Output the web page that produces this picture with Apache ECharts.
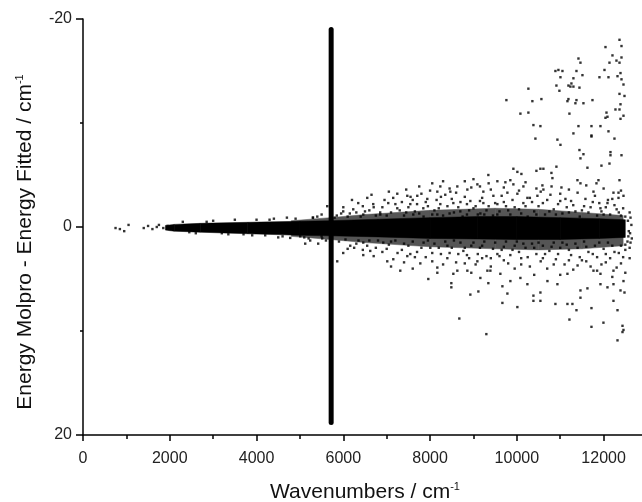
<!DOCTYPE html>
<html><head><meta charset="utf-8">
<script src="https://cdn.jsdelivr.net/npm/echarts@6/dist/echarts.min.js"></script>
<style>html,body{margin:0;padding:0;background:#fff}#c{width:642px;height:502px}</style>
</head><body><div id="c"></div>
<script>
// axis ticks
var xTicks = [0, 2000, 4000, 6000, 8000, 10000, 12000];
var yTicks = [-20, 0, 20];

// dense core band envelope (wavenumber, upper residual, lower residual)
var bandX = [1900, 2100, 2700, 3800, 5000, 5700, 6800, 8000, 9100, 10000, 11000, 11900, 12500];
var bandTop = [-0.15, -0.25, -0.35, -0.45, -0.55, -0.6, -0.75, -0.9, -1.0, -1.0, -0.9, -0.8, -0.7];
var bandBottom = [0.3, 0.4, 0.5, 0.65, 0.8, 0.85, 0.95, 1.1, 1.15, 1.2, 1.2, 1.1, 1.0];

// halo envelope around the core where points overlap heavily
var haloX = [4800, 5700, 6500, 8000, 9500, 10500, 11500, 12450];
var haloTop = [-0.6, -0.9, -1.2, -1.6, -1.8, -1.7, -1.4, -1.1];
var haloBottom = [0.9, 1.2, 1.5, 1.9, 2.1, 2.2, 2.1, 1.8];

// vertical marker line
var markerX = 5720;
var markerY = [-19, 18.8];

// sparse low-energy points
var leftPoints = [[750,0.1],[850,0.2],[950,0.4],[1050,-0.2],[1400,0.1],[1500,-0.1],[1600,0.2],[1700,0],[1750,-0.2],[1850,0.1],[1950,-0.1],[2000,0.2],
[2300,-0.5],[2600,0.6],[3000,-0.6],[3200,0.6],[3500,-0.7],[3700,0.7],[4000,-0.7],[4200,0.8],[4400,-0.8],[4600,0.9],[4900,-0.8],[5100,1.0],[5300,-0.9],[5500,0.9],
[5006,0.9],[5237,1.3],[5421,1.6],[5514,1.1],[5122,1.6],[4776,1.05],[5300,-0.9],[5500,-1.2],[5800,-0.9],[5950,-1.3],[5629,-2.0],
[2450,0.5],[2850,-0.5],[3350,0.7],[3900,0.8],[4300,-0.7],[4500,1.0],[4700,-0.9],[5200,1.1],[5400,-1.0],[5600,1.3]];

// large positive-side outliers (top of plot)
var upperOutliers = [[12366,-18.0],[12412,-17.4],[12043,-17.3],[12204,-16.5],[12296,-16.0],[12135,-15.8],[12366,-15.8],[12412,-16.3],[11420,-16.2],[11466,-15.8],
[10889,-15.0],[10958,-15.1],[11051,-15.0],[11374,-15.0],[12020,-15.1],[12389,-14.8],[12320,-14.5],[11512,-14.6],[11904,-14.4],[12112,-14.4],[11005,-14.4],[11304,-14.3],
[11258,-13.8],[11189,-13.6],[10912,-13.6],[11235,-13.5],[11304,-13.5],[11443,-13.4],[12412,-14.2],[12458,-13.7],[10981,-13.1],[10266,-13.3],[12366,-12.8],[12481,-12.6],
[9759,-12.2],[10358,-12.1],[10566,-12.3],[11189,-12.3],[11166,-12.1],[11374,-12.2],[11350,-11.9],[11535,-11.9],[11743,-12.2],[12389,-11.8],[12366,-11.3],[12273,-11.3],
[10082,-10.9],[10266,-11.0],[11212,-10.9],[12066,-11.0],[12089,-10.6],[12043,-10.5],[12458,-10.7],[12389,-10.4],[10382,-9.8],[10543,-9.7],[11420,-9.7],[11720,-9.7],
[11927,-9.7],[11304,-9.0],[11720,-8.8],[12112,-9.2],[10428,-8.5],[10935,-8.4],[11005,-7.9],[11720,-8.7],[12250,-8.5],[11443,-7.4],[11535,-7.0],[11466,-6.6],
[12158,-7.2],[12158,-6.9],[12412,-6.9],[12135,-6.1],[11950,-5.9],[11627,-5.7],[10912,-5.8],[9920,-5.6],[10012,-5.3],[10105,-5.1],[10543,-5.6],[10612,-5.6],
[10451,-5.4],[10797,-5.2],[10820,-4.7],[11397,-4.5],[11466,-4.2],[11881,-4.5],[11835,-4.2],[12366,-4.5],[9736,-4.3],[9920,-4.1],[10151,-3.9],[10451,-3.7],
[10589,-4.0],[10612,-3.6],[11028,-3.8],[11766,-3.4],[12227,-3.3],[12343,-3.3],[12458,-3.0],[12343,-2.8],[9782,-3.3],[10012,-3.2],[10243,-2.8],[10474,-3.0],
[10774,-3.1],[11120,-2.7],[11581,-2.7],[12089,-2.3],[11927,-1.8]];

// points just above the core band
var upperHalo = [[9343,-5.0],[9551,-4.4],[9090,-4.1],[8628,-3.9],[8236,-3.9],[8167,-3.4],[8467,-3.4],[8859,-3.6],[9228,-3.4],[9459,-3.0],[7244,-3.2],[7475,-3.0],
[7705,-3.0],[7936,-2.7],[6552,-2.8],[6690,-2.2],[6344,-2.3],[7036,-2.3],[5998,-1.5],[6229,-1.7],[6460,-1.2],[6852,-1.2],[7244,-1.8],[7544,-2.2],[7844,-1.8],
[8236,-2.2],[8536,-2.3],[8928,-2.5],[9228,-2.3],[9551,-2.2],[7613,-1.2],[8167,-1.2],[8697,-1.5],[9159,-1.3],
[6100,-1.0],[6300,-1.4],[6450,-2.0],[6600,-1.6],[6750,-1.1],[6900,-1.9],[6950,-2.6],[7100,-1.4],[7150,-2.8],
[7300,-1.6],[7350,-2.4],[7400,-1.1],[7550,-2.9],[7650,-1.5],[7700,-2.2],[7800,-3.2],[7850,-1.0],[7950,-2.0],[8000,-3.5],
[8100,-1.6],[8150,-2.6],[8300,-1.1],[8350,-3.1],[8400,-2.0],[8550,-1.4],[8600,-3.3],[8700,-2.4],[8750,-1.0],[8800,-2.9],[8900,-1.6],[8950,-3.8],
[9050,-2.0],[9100,-1.2],[9200,-2.8],[9300,-1.6],[9400,-3.6],[9450,-1.1],[9500,-2.3],[9600,-1.5],[9650,-3.0],[9750,-2.0],[9850,-1.2],[9900,-2.6],
[10050,-1.7],[10150,-2.3],[10250,-1.0],[10300,-2.8],[10400,-1.5],[10500,-2.0],[10650,-1.2],[10700,-2.6],[10850,-1.7],[10950,-2.2],
[11050,-1.3],[11150,-1.9],[11250,-2.5],[11350,-1.5],[11450,-1.0],[11550,-2.0],[11650,-1.4],[11750,-2.4],[11850,-1.1],[11950,-1.5],[12050,-1.9],[12150,-1.2],
[12250,-2.1],[12350,-1.4],[12450,-1.8],[12500,-1.0],
[6200,-2.6],[6650,-3.1],[7050,-3.4],[7450,-3.6],[7750,-3.9],[8050,-4.2],[8300,-4.4],[8450,-3.7],[8800,-4.4],[9000,-4.6],[9150,-3.9],[9350,-4.2],[9700,-3.8],
[9850,-4.5],[10050,-3.5],[10200,-4.3],[10550,-3.4],[10800,-3.9],[11000,-3.2],[11200,-3.6],[11400,-3.3],[11600,-4.0],[11800,-3.0],[12000,-3.7],[12200,-2.7],[12400,-3.5],
[5850,-1.1],[6000,-1.9],[6150,-1.3],[6400,-1.0],[6500,-1.5],[6700,-1.9],[6850,-1.4],[7000,-1.1],[7200,-2.2],[7450,-1.4],[7500,-1.9],[7600,-2.6],[7750,-1.3],
[7900,-2.4],[8050,-1.2],[8200,-1.8],[8250,-2.9],[8450,-1.3],[8500,-2.7],[8650,-1.9],[8850,-2.2],[8850,-1.2],[9000,-1.8],[9150,-2.5],[9250,-1.2],[9350,-2.0],
[9550,-1.2],[9700,-2.4],[9800,-1.6],[9950,-1.9],[10100,-1.3],[10200,-2.0],[10350,-2.4],[10450,-1.2],[10600,-2.3],[10750,-1.5],[10900,-1.2],[11000,-2.5],
[11200,-1.4],[11300,-2.1],[11500,-1.6],[11700,-1.9],[11900,-2.3],[12000,-1.2],[12100,-2.6],[12300,-1.7],[12400,-1.1],
[12560,-0.6],[12600,-1.4],[12640,-0.2],[12580,0.4],[12620,-0.9]];

// points below the core band
var lowerHalo = [[5998,2.5],[6160,1.8],[6621,2.3],[6460,1.5],[6921,1.5],[7152,3.1],[7313,4.2],[7013,3.3],[7544,2.6],[7775,3.5],[8005,2.0],[8167,3.9],
[8398,3.0],[8628,4.2],[8767,2.3],[9090,3.3],[9321,4.2],[9551,2.6],[7959,5.0],[5860,3.3],[6460,2.7],[7475,2.8],[12620,1.5],
[9500,1.5],[9600,2.8],[9700,1.9],[9800,3.5],[9900,2.2],[10000,1.4],[10100,3.0],[10200,2.0],[10300,3.8],[10350,1.6],[10450,2.6],[10550,3.3],[10600,1.8],
[10700,4.0],[10750,2.3],[10850,1.5],[10900,3.1],[11000,2.0],[11100,3.6],[11150,1.7],[11250,2.7],[11300,4.1],[11400,2.0],[11500,3.2],[11550,1.4],[11650,2.4],
[11700,3.8],[11800,1.8],[11850,2.9],[11950,3.6],[12000,2.1],[12100,1.5],[12150,3.0],[12250,2.4],[12300,3.9],[12400,1.8],[12450,2.9],[12500,2.2],[12550,1.4],
[6050,1.2],[6250,2.0],[6350,1.3],[6550,1.8],[6700,2.8],[6800,1.3],[7000,2.1],[7100,1.4],[7250,2.5],[7400,1.6],[7600,1.4],[7700,2.4],[7850,1.5],[7900,2.9],
[8100,1.6],[8250,2.6],[8350,1.4],[8500,2.0],[8600,3.4],[8700,1.5],[8850,2.7],[8950,1.8],[9050,3.6],[9150,2.0],[9250,1.4],[9400,3.0],
[5900,1.4],[6100,2.1],[6300,1.6],[6450,2.2],[6600,1.3],[6750,2.0],[6900,2.4],[7050,1.7],[7200,1.3],[7350,2.2],[7500,1.8],[7650,2.9],[7800,2.0],[7950,1.3],
[8050,2.5],[8200,2.0],[8400,1.8],[8450,2.5],[8550,1.3],[8650,2.6],[8800,2.0],[8900,3.0],[9000,1.5],[9100,2.6],[9200,1.8],[9300,2.8],[9450,2.1],[9650,2.2],
[9750,1.4],[9850,2.7],[9950,1.8],[10050,2.4],[10150,1.6],[10250,2.9],[10400,2.0],[10500,1.5],[10650,2.6],[10800,1.9],[10950,2.6],[11050,1.5],[11200,2.2],
[11350,1.6],[11450,2.9],[11600,1.9],[11750,2.6],[11900,1.5],[12050,2.6],[12200,1.8],[12350,2.5],[12500,1.7],[12600,2.0],
[7100,3.8],[7400,3.4],[7600,4.0],[8050,3.3],[8300,3.6],[8800,3.5],[8950,4.4],[9200,3.0],[9400,3.8],[9700,3.2],[9950,4.0],[10100,3.6],[10400,4.6],[10600,3.0],
[10850,3.6],[11000,4.6],[11200,3.2],[11400,3.7],[11600,3.3],[11850,4.2],[12050,3.4],[12200,4.8],[12400,3.5],[12500,4.4],[12600,3.0],
[12570,0.9],[12610,0.6],[12650,1.1]];

// large negative-side outliers (bottom of plot)
var lowerOutliers = [[8490,5.4],[8490,5.8],[8928,6.5],[9113,6.2],[8674,8.8],[9297,10.3],[9667,7.3],[10012,7.7],[9343,5.4],[9667,5.7],[9782,6.4],[10382,7.1],
[10543,7.1],[10889,7.4],[11166,7.4],[11281,7.4],[11374,8.0],[11212,8.9],[11720,7.8],[11720,9.6],[11996,9.2],[12227,7.1],[12320,8.0],[12320,10.9],[12435,9.5],
[12458,9.9],[12435,10.1],[12481,6.3],[11466,6.1],[11466,6.8],[10935,5.5],[10543,6.3],[10382,6.6],[10705,5.2],[10243,5.5],[10082,4.9],[11627,5.9],[11927,5.5],
[12089,5.8],[12227,5.5],[12389,6.1],[12458,5.2],[12227,4.2],[11927,4.5],[11766,4.2],[11166,4.5],[9851,5.2],[9620,4.5],[9390,4.2],[9159,4.9],[8859,4.2],
[8536,4.5],[8167,4.4]];

var allPoints = [].concat(leftPoints, upperOutliers, upperHalo, lowerHalo, lowerOutliers);
var bandData = bandX.map(function (x, i) { return [x, bandTop[i], bandBottom[i]]; });
var haloData = haloX.map(function (x, i) { return [x, haloTop[i], haloBottom[i]]; });

function envelope(rows, fill) {
  return function (params, api) {
    var i = params.dataIndex;
    if (i >= rows.length - 1) return null;
    var a = rows[i], b = rows[i + 1];
    var pts = [api.coord([a[0], a[1]]), api.coord([b[0], b[1]]), api.coord([b[0], b[2]]), api.coord([a[0], a[2]])];
    return { type: 'polygon', shape: { points: pts }, style: { fill: fill, stroke: fill, lineWidth: 0.5 } };
  };
}

var chart = echarts.init(document.getElementById('c'));
var font = 'Liberation Sans, Arial, sans-serif';
chart.setOption({
  animation: false,
  backgroundColor: '#fff',
  grid: { left: 83, top: 19, width: 564, height: 416, containLabel: false, outerBoundsMode: 'none' },
  xAxis: {
    type: 'value', min: 0, max: 13000, interval: 2000,
    name: 'Wavenumbers / cm{s|-1}', nameLocation: 'middle', nameGap: 46,
    nameTextStyle: { fontFamily: font, fontSize: 21, color: '#111',
      rich: { s: { fontSize: 11, fontFamily: font, color: '#111', verticalAlign: 'top', padding: [0, 0, 12, 0] } } },
    axisLine: { show: true, onZero: false, lineStyle: { color: '#000', width: 1.5 } },
    axisTick: { show: true, inside: false, length: 6, lineStyle: { color: '#000', width: 1.5 } },
    minorTick: { show: true, splitNumber: 2, length: 4, lineStyle: { color: '#000', width: 1.5 } },
    axisLabel: { margin: 16, fontFamily: font, fontSize: 16, color: '#222', hideOverlap: false,
      formatter: function (v) { var n = Number(v); return (n <= 12000 && xTicks.indexOf(n) >= 0) ? String(n) : ''; } },
    splitLine: { show: false }
  },
  yAxis: {
    type: 'value', min: -20, max: 20, interval: 20, inverse: true,
    name: 'Energy Molpro - Energy Fitted / cm{s|-1}', nameLocation: 'middle', nameGap: 46, nameRotate: 90,
    nameTextStyle: { fontFamily: font, fontSize: 21, color: '#111', padding: [0, 30, 0, 0],
      rich: { s: { fontSize: 11, fontFamily: font, color: '#111', verticalAlign: 'top', padding: [0, 0, 12, 0] } } },
    axisLine: { show: true, lineStyle: { color: '#000', width: 1.5 } },
    axisTick: { show: true, inside: false, length: 7, lineStyle: { color: '#000', width: 1.5 } },
    minorTick: { show: true, splitNumber: 2, length: 3, lineStyle: { color: '#000', width: 1.5 } },
    axisLabel: { margin: 11, fontFamily: font, fontSize: 16, color: '#222',
      formatter: function (v) { var n = Number(v); return yTicks.indexOf(n) >= 0 ? String(n) : ''; } },
    splitLine: { show: false }
  },
  series: [
    { type: 'custom', silent: true, data: haloData, renderItem: envelope(haloData, '#555') },
    { type: 'custom', silent: true, data: bandData, renderItem: envelope(bandData, '#000') },
    { type: 'scatter', symbol: 'rect', symbolSize: 2.4, silent: true,
      itemStyle: { color: '#000' }, data: allPoints },
    { type: 'line', symbol: 'none', silent: true,
      data: markerY.map(function (y) { return [markerX, y]; }),
      lineStyle: { color: '#000', width: 5, cap: 'round' } }
  ]
});
</script></body></html>
